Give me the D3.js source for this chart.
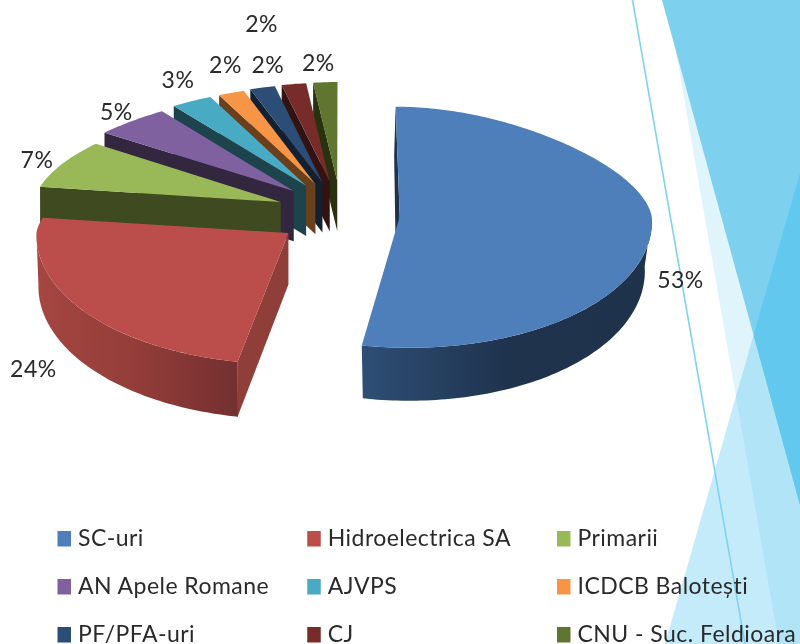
<!DOCTYPE html>
<html>
<head>
<meta charset="utf-8">
<script src="https://cdn.jsdelivr.net/npm/d3@7/dist/d3.min.js"></script>
<style>
html,body{margin:0;padding:0;background:#fff;}
svg{display:block;filter:blur(0.4px);}
text{font-family:Lato,"Open Sans",sans-serif;fill:#2a2a2a;}
</style>
</head>
<body>
<div id="chart"></div>
<script>
const categories = ["SC-uri","Hidroelectrica SA","Primarii","AN Apele Romane","AJVPS","ICDCB Balotești","PF/PFA-uri","CJ","CNU - Suc. Feldioara"];
const values = [53,24,7,5,3,2,2,2,2];
const topColors = ["#4e7fbb","#bb4e4b","#99b958","#7f61a0","#49aac4","#f59545","#2c4d75","#772c2a","#5f7530"];
const wallColors = ["#1e324c","#8f3e3a","#3f4a21","#33263f","#1d434d","#6a3f1c","#13202f","#331312","#28320f"];
const explode = [59,65,64,63,62,60,60,60,60];
const rxScale = [1,1,0.98,1,1,1,1,1,1];
const ryExtra = [11,0,0,0,0,0,0,0,0];
const sideShrink = [0.972,0.992,1,1,1,1,1,1,1];
const depthScale = [0.97,1,1,1,1,1,1,1,1];
const labelNudge = [[29,50],[-49,58],[-26,-4],[-16,-10],[-14,-22],[-6,-29],[-1,-65],[-26,-20],[-7,-20]];

const W = 800, H = 644;
const cx = 341, cy = 214;

const svg = d3.select("#chart").append("svg").attr("width",W).attr("height",H);
const defs = svg.append("defs");

// background facets
const facetA = [[662,0],[800,0],[800,505]];
const facetB = [[800,173],[800,644],[665,644]];
const facetC = [[667,0],[800,0],[800,644],[779,644]];
const poly = d3.line();
const bg = svg.append("g");
defs.append("clipPath").attr("id","clipA").append("path").attr("d",poly(facetA)+"Z");
bg.append("path").attr("d",poly(facetC)+"Z").attr("fill","#e0f4fb");
bg.append("path").attr("d",poly(facetB)+"Z").attr("fill","#5cc8ee").attr("opacity",0.36);
bg.append("path").attr("d",poly(facetA)+"Z").attr("fill","#7dd1ef");
bg.append("path").attr("d",poly(facetB)+"Z").attr("fill","#62c8ee").attr("clip-path","url(#clipA)");
bg.append("line").attr("x1",632.5).attr("y1",0).attr("x2",745).attr("y2",644)
  .attr("stroke","#7fd3f0").attr("stroke-width",1.6);

// gradients for the curved sides
function grad(id, stops){
  const g = defs.append("linearGradient").attr("id",id).attr("x1","0").attr("x2","1").attr("y1","0").attr("y2","0");
  stops.forEach(s=>g.append("stop").attr("offset",s[0]).attr("stop-color",s[1]));
}
grad("side0",[[0,"#2e4f76"],[0.5,"#1f334d"],[1,"#1e324c"]]);
grad("side1",[[0,"#a54641"],[0.5,"#933d39"],[1,"#733030"]]);

// projection of the tilted pie
const pie = d3.pie().sort(null).value(d=>d);
const slices = pie(values);
const rxBack = d3.scaleLinear().domain([0,1]).range([252,194]);
const ryBack = d3.scaleLinear().domain([0,1]).range([131,99]);
const depth = d3.scaleLinear().domain([183,362]).range([50,55]).clamp(true);

function apex(i){
  const m = (slices[i].startAngle+slices[i].endAngle)/2;
  const c = Math.cos(m);
  return [cx+explode[i]*Math.sin(m), cy-explode[i]*(c>0?0.55:0.5)*c];
}
function rim(i,t){
  const a = apex(i), c = Math.cos(t), s = Math.sin(t);
  const rx = (c>0 ? rxBack(Math.pow(c,1.3)) : 252)*rxScale[i];
  const ry = c>0 ? ryBack(Math.pow(c,0.6)) + ryExtra[i]*c : 131;
  const skew = (a[0]>cx && c<0) ? 0.16 : 0.07;
  return [a[0]+rx*s-skew*(a[0]-cx)*c, a[1]-ry*c];
}
function samples(a0,a1){
  const n = Math.max(4,Math.ceil((a1-a0)/0.02));
  return d3.range(n+1).map(k=>a0+(a1-a0)*k/n);
}
const line = d3.line();
const g = svg.append("g");
const order = d3.range(values.length).reverse();

order.forEach(i=>{
  const sl = slices[i], a = apex(i);
  const lean = Math.max(0,0.05*(a[0]-cx));
  const st = rim(i,sl.startAngle);
  const drop = y=>depth(y)*depthScale[i];
  // radial wall
  const stDown = [st[0]-lean*0.5, st[1]+drop(st[1])];
  const aDown = [a[0]-lean*1.3, a[1]+drop(a[1])];
  g.append("path").attr("d",line([a,st,stDown,aDown])+"Z").attr("fill",wallColors[i]);
  // curved outer side (front half only)
  const lo = Math.max(sl.startAngle,Math.PI/2), hi = Math.min(sl.endAngle,Math.PI*1.5);
  if(hi>lo){
    const ts = samples(lo,hi);
    const upper = ts.map(t=>rim(i,t));
    const lower = ts.map(t=>{
      const p = rim(i,t);
      return [a[0]+(p[0]-a[0])*sideShrink[i], p[1]+drop(p[1])];
    });
    g.append("path").attr("d",line(upper.concat(lower.reverse()))+"Z").attr("fill",`url(#side${i})`);
  }
  // top face
  const pts = [a].concat(samples(sl.startAngle,sl.endAngle).map(t=>rim(i,t)));
  g.append("path").attr("d",line(pts)+"Z").attr("fill",topColors[i]);
});

// percentage labels
const labels = svg.append("g").attr("font-size",23).attr("letter-spacing",0.5);
slices.forEach((sl,i)=>{
  const p = rim(i,(sl.startAngle+sl.endAngle)/2);
  labels.append("text")
    .attr("x",p[0]+labelNudge[i][0]).attr("y",p[1]+labelNudge[i][1])
    .attr("text-anchor","middle").attr("dominant-baseline","central")
    .text(values[i]+"%");
});

// legend
const colX = d3.scalePoint().domain([0,1,2]).range([57.5,557]);
const rowY = d3.scalePoint().domain([0,1,2]).range([531,627]);
const legend = svg.append("g").attr("font-size",23).attr("letter-spacing",0.45);
categories.forEach((c,i)=>{
  const x = colX(i%3), y = rowY(Math.floor(i/3));
  legend.append("rect").attr("x",x).attr("y",y).attr("width",13.5).attr("height",15.5).attr("fill",topColors[i]);
  legend.append("text").attr("x",x+20.5).attr("y",y+6).attr("dominant-baseline","central").text(c);
});
</script>
</body>
</html>
